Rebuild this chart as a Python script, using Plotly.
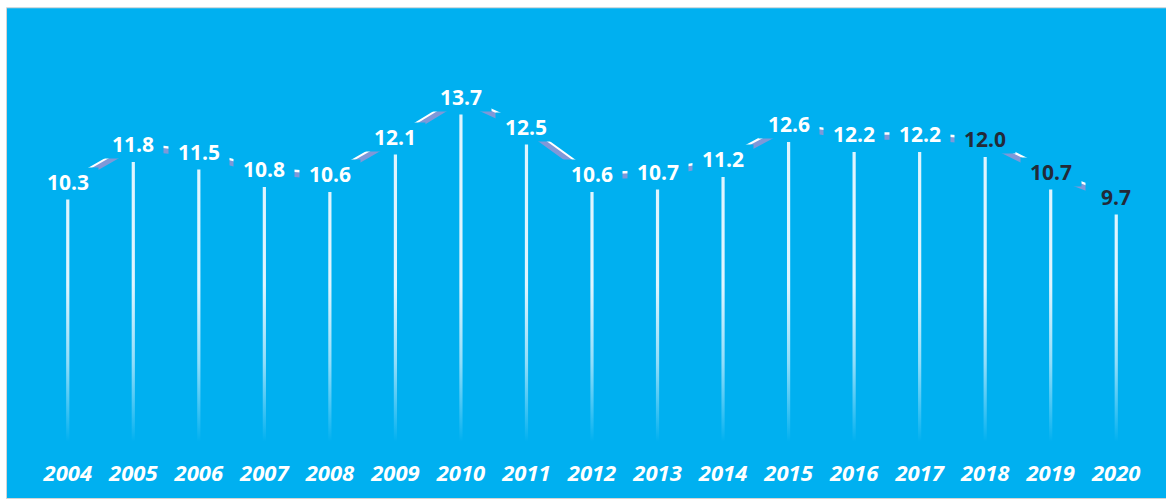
import plotly.graph_objects as go

years = ["2004", "2005", "2006", "2007", "2008", "2009", "2010", "2011", "2012",
         "2013", "2014", "2015", "2016", "2017", "2018", "2019", "2020"]
values = [10.3, 11.8, 11.5, 10.8, 10.6, 12.1, 13.7, 12.5, 10.6,
          10.7, 11.2, 12.6, 12.2, 12.2, 12.0, 10.7, 9.7]
dark_label_years = ["2018", "2019", "2020"]

W, H = 1166, 499
ML, MR, MT, MB = 35, 17, 30, 37
PW, PH = W - ML - MR, H - MT - MB
BLUE = "#00B0F0"
Y_MAX = 17.08
px_per_unit = PH / Y_MAX
line_shift = 18 / px_per_unit      # line/labels sit 18px above bar tops
shadow_shift = 15 / px_per_unit    # ribbon underside 3px lower
half_w = 1.6 / (PW / len(years))   # ~3px wide bars

xs = list(range(len(years)))
fig = go.Figure()

# thin gradient bars
for i, v in zip(xs, values):
    fig.add_trace(go.Scatter(
        x=[i - half_w, i + half_w, i + half_w, i - half_w, i - half_w],
        y=[0, 0, v, v, 0],
        mode="lines", line=dict(width=0), fill="toself",
        fillgradient=dict(type="vertical", start=0.8, stop=7.0,
                          colorscale=[[0, "rgba(255,255,255,0)"],
                                      [0.5, "rgba(240,250,255,0.6)"],
                                      [1, "rgba(235,248,255,0.95)"]]),
        hoverinfo="skip", showlegend=False))

# ribbon line: underside + top
fig.add_trace(go.Scatter(x=xs, y=values, yaxis="y3", mode="lines",
                         line=dict(color="#7F98D8", width=5),
                         hoverinfo="skip", showlegend=False))
fig.add_trace(go.Scatter(x=xs, y=values, yaxis="y2", mode="lines",
                         line=dict(color="white", width=4),
                         hoverinfo="skip", showlegend=False))

# data labels with blue boxes covering the line
for i, (yr, v) in enumerate(zip(years, values)):
    col = "#232A38" if yr in dark_label_years else "white"
    fig.add_annotation(x=i, y=v, xref="x", yref="y2", text=f"{v:.1f}",
                       showarrow=False, bgcolor=BLUE, width=58, height=26,
                       font=dict(family="Open Sans", size=21, color=col, weight="bold"))

# frame: white page with thin gray edge, blue panel
def px_to_paper_x(p):
    return (p - ML) / PW

def px_to_paper_y(p):
    return (H - MB - p) / PH

fig.add_shape(type="rect", xref="paper", yref="paper",
              x0=px_to_paper_x(6.5), x1=px_to_paper_x(W + 5),
              y0=px_to_paper_y(H + 5), y1=px_to_paper_y(7.5),
              fillcolor=BLUE, line=dict(color="#D4D4D4", width=1), layer="below")

fig.update_layout(
    width=W, height=H,
    margin=dict(l=ML, r=MR, t=MT, b=MB),
    paper_bgcolor="white", plot_bgcolor="rgba(0,0,0,0)",
    showlegend=False,
    xaxis=dict(range=[-0.5, len(years) - 0.5], tickvals=xs, ticktext=years,
               showgrid=False, zeroline=False, showline=False, ticks="",
               ticklabelstandoff=1,
               tickfont=dict(family="Open Sans", size=22, color="white",
                             weight="bold", style="italic")),
    yaxis=dict(range=[0, Y_MAX], visible=False, showgrid=False, zeroline=False),
    yaxis2=dict(range=[-line_shift, Y_MAX - line_shift], overlaying="y",
                visible=False, showgrid=False, zeroline=False),
    yaxis3=dict(range=[-shadow_shift, Y_MAX - shadow_shift], overlaying="y",
                visible=False, showgrid=False, zeroline=False),
)

fig.write_html("out.html", config={"displayModeBar": False},
               post_script="document.body.style.margin='0';document.body.style.overflow='hidden';")
